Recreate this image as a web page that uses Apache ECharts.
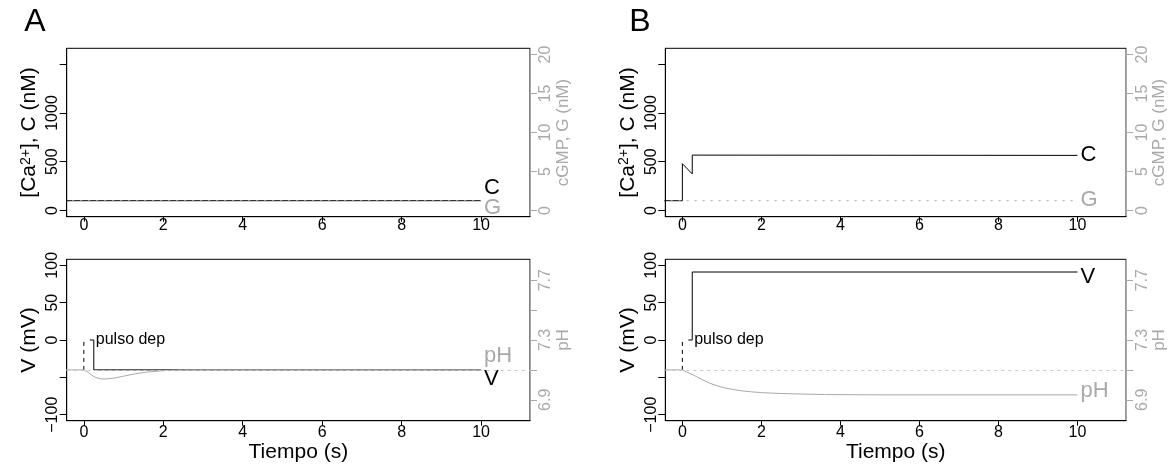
<!DOCTYPE html>
<html>
<head>
<meta charset="utf-8">
<script src="https://cdn.jsdelivr.net/npm/echarts@6/dist/echarts.min.js"></script>
<style>
  html, body { margin: 0; padding: 0; background: #fff; }
  #chart { width: 1169px; height: 465px; }
</style>
</head>
<body>
<div id="chart"></div>
<script>
// tick positions and labels
const tTicks = [0, 2, 4, 6, 8, 10];
const caTicks = [0, 500, 1000, 1500];
const caLabels = [0, 500, 1000];
const gTicks = [0, 5, 10, 15, 20];
const vTicks = [-100, -50, 0, 50, 100];
const vLabels = [-100, 0, 50, 100];
const phTicks = [6.9, 7.1, 7.3, 7.5, 7.7];
const phLabels = [6.9, 7.3, 7.7];
const phRest = 7.1;

// panel A (control)
const cA = [[-0.5, 100], [10, 100]];
const gA = [[-0.5, 1.25], [10, 1.25]];
const pulseA = [[0, -40], [0, 0]];
const vA = [[0.15, 0], [0.25, 0], [0.25, -40], [10, -40]];
const phA = [[-0.5, 7.1], [0, 7.1], [0.1, 7.086], [0.2, 7.064], [0.3, 7.049], [0.45, 7.039],
  [0.6, 7.040], [0.8, 7.047], [1.0, 7.058], [1.3, 7.074], [1.6, 7.086], [2.0, 7.095],
  [2.5, 7.099], [3.0, 7.1], [10, 7.1]];

// panel B
const cB = [[-0.5, 100], [0, 100], [0, 480], [0.25, 375], [0.25, 568], [10, 565]];
const gB = [[-0.5, 1.25], [10, 1.25]];
const pulseB = [[0, -40], [0, 0]];
const vB = [[0.15, 0], [0.25, 0], [0.25, 91], [10, 91]];
const phB = [[-0.5, 7.1], [0, 7.1], [0.1, 7.087], [0.27, 7.067], [0.5, 7.035], [0.69, 7.011],
  [0.9, 6.992], [1.1, 6.978], [1.3, 6.968], [1.5, 6.960], [1.75, 6.953], [2.0, 6.948],
  [2.4, 6.943], [2.8, 6.940], [3.6, 6.935], [5, 6.933], [10, 6.933]];

const FONT = '"Liberation Sans", Arial, sans-serif';
const GRAY = '#a9a9a9';

const grids = [
  { left: 66.7, top: 48.3, width: 463.3, height: 168.4 },
  { left: 66.7, top: 259.3, width: 463.3, height: 161.4 },
  { left: 665.3, top: 48.3, width: 464, height: 168.4 },
  { left: 665.3, top: 259.3, width: 464, height: 161.4 }
].map(g => Object.assign({ show: true, borderColor: '#000', borderWidth: 1, containLabel: false }, g));

const xAxes = [0, 1, 2, 3].map(i => ({
  type: 'value', gridIndex: i, min: -0.432, max: 11.232,
  axisLine: { show: true, onZero: false, lineStyle: { color: '#000', width: 1 } },
  axisTick: { show: true, length: 5, customValues: tTicks, lineStyle: { color: '#000' } },
  axisLabel: { customValues: tTicks, color: '#000', fontSize: 16, margin: i % 2 ? 4 : 1 },
  splitLine: { show: false },
  name: i % 2 ? 'Tiempo (s)' : '',
  nameLocation: 'middle', nameGap: 20,
  nameTextStyle: { fontSize: 21, color: '#000' }
}));

function yAxis(grid, side, min, max, ticks, labels, name, color, fmt, nameGap, nameSize, rich) {
  return {
    type: 'value', gridIndex: grid, position: side, min: min, max: max,
    axisLine: { show: true, onZero: false, lineStyle: { color: color } },
    axisTick: { show: true, length: 7, customValues: ticks, lineStyle: { color: color } },
    axisLabel: {
      customValues: labels, color: color, fontSize: 16, rotate: 90,
      margin: side === 'left' ? 6 : 8, formatter: fmt
    },
    splitLine: { show: false },
    name: name, nameLocation: 'middle', nameRotate: 90, nameGap: nameGap,
    nameTextStyle: { fontSize: nameSize, color: color, rich: rich }
  };
}

const fmtInt = v => (v < 0 ? '\u2212' + (-v) : String(v));
const fmtPh = v => v.toFixed(1);
const caRich = { s: { fontSize: 14, color: '#000', verticalAlign: 'top' } };
const caName = '[Ca{s|2+}], C (nM)';

const yAxes = [];
[0, 2].forEach(g => {
  yAxes.push(yAxis(g, 'left', -64, 1664, caTicks, caLabels, caName, '#000', fmtInt, 27, 21, caRich));
  yAxes.push(yAxis(g, 'right', -0.8, 20.8, gTicks, gTicks, 'cGMP, G (nM)', GRAY, fmtInt, 23, 17));
  yAxes.push(yAxis(g + 1, 'left', -108, 108, vTicks, vLabels, 'V (mV)', '#000', fmtInt, 27, 21));
  yAxes.push(yAxis(g + 1, 'right', 6.76, 7.84, phTicks, phLabels, 'pH', GRAY, fmtPh, 23, 17));
});

function endLab(text, color, dy) {
  return { show: true, formatter: text, color: color, fontSize: 22, distance: 3, offset: [0, dy] };
}

function line(x, y, data, color, type, extra) {
  return Object.assign({
    type: 'line', xAxisIndex: x, yAxisIndex: y, data: data,
    showSymbol: false, symbol: 'none', animation: false, silent: true,
    lineStyle: { color: color, width: 1, type: type }
  }, extra || {});
}

function pulseLabel() {
  return {
    symbol: 'circle', symbolSize: 0, silent: true,
    data: [{ coord: [0.3, 0] }],
    label: { show: true, position: 'right', distance: 0, formatter: 'pulso dep', fontSize: 16, color: '#000' }
  };
}

function refLine() {
  return {
    symbol: 'none', silent: true, label: { show: false },
    lineStyle: { color: '#c8c8c8', width: 1, type: [3, 4] },
    data: [{ yAxis: phRest }]
  };
}

const series = [
  // panel A top
  line(0, 0, cA, '#000', 'solid', { endLabel: endLab('C', '#000', -13) }),
  line(0, 1, gA, GRAY, [2, 6], { endLabel: endLab('G', GRAY, 7) }),
  // panel A bottom
  line(1, 2, pulseA, '#000', [4, 4], { markPoint: pulseLabel() }),
  line(1, 2, vA, '#000', 'solid', { endLabel: endLab('V', '#000', 9) }),
  line(1, 3, phA, GRAY, 'solid', { endLabel: endLab('pH', GRAY, -14), markLine: refLine() }),
  // panel B top
  line(2, 4, cB, '#000', 'solid', { endLabel: endLab('C', '#000', 0) }),
  line(2, 5, gB, GRAY, [2, 6], { endLabel: endLab('G', GRAY, -1) }),
  // panel B bottom
  line(3, 6, pulseB, '#000', [4, 4], { markPoint: pulseLabel() }),
  line(3, 6, vB, '#000', 'solid', { endLabel: endLab('V', '#000', 5) }),
  line(3, 7, phB, GRAY, 'solid', { endLabel: endLab('pH', GRAY, -4), markLine: refLine() })
];

const chart = echarts.init(document.getElementById('chart'), null, { renderer: 'canvas' });
chart.setOption({
  animation: false,
  textStyle: { fontFamily: FONT },
  grid: grids,
  xAxis: xAxes,
  yAxis: yAxes,
  series: series,
  graphic: [
    { type: 'text', x: 35, y: 22, style: { text: 'A', font: '32px ' + FONT, align: 'center', verticalAlign: 'middle', fill: '#000' } },
    { type: 'text', x: 640, y: 22, style: { text: 'B', font: '32px ' + FONT, align: 'center', verticalAlign: 'middle', fill: '#000' } }
  ]
});
</script>
</body>
</html>
